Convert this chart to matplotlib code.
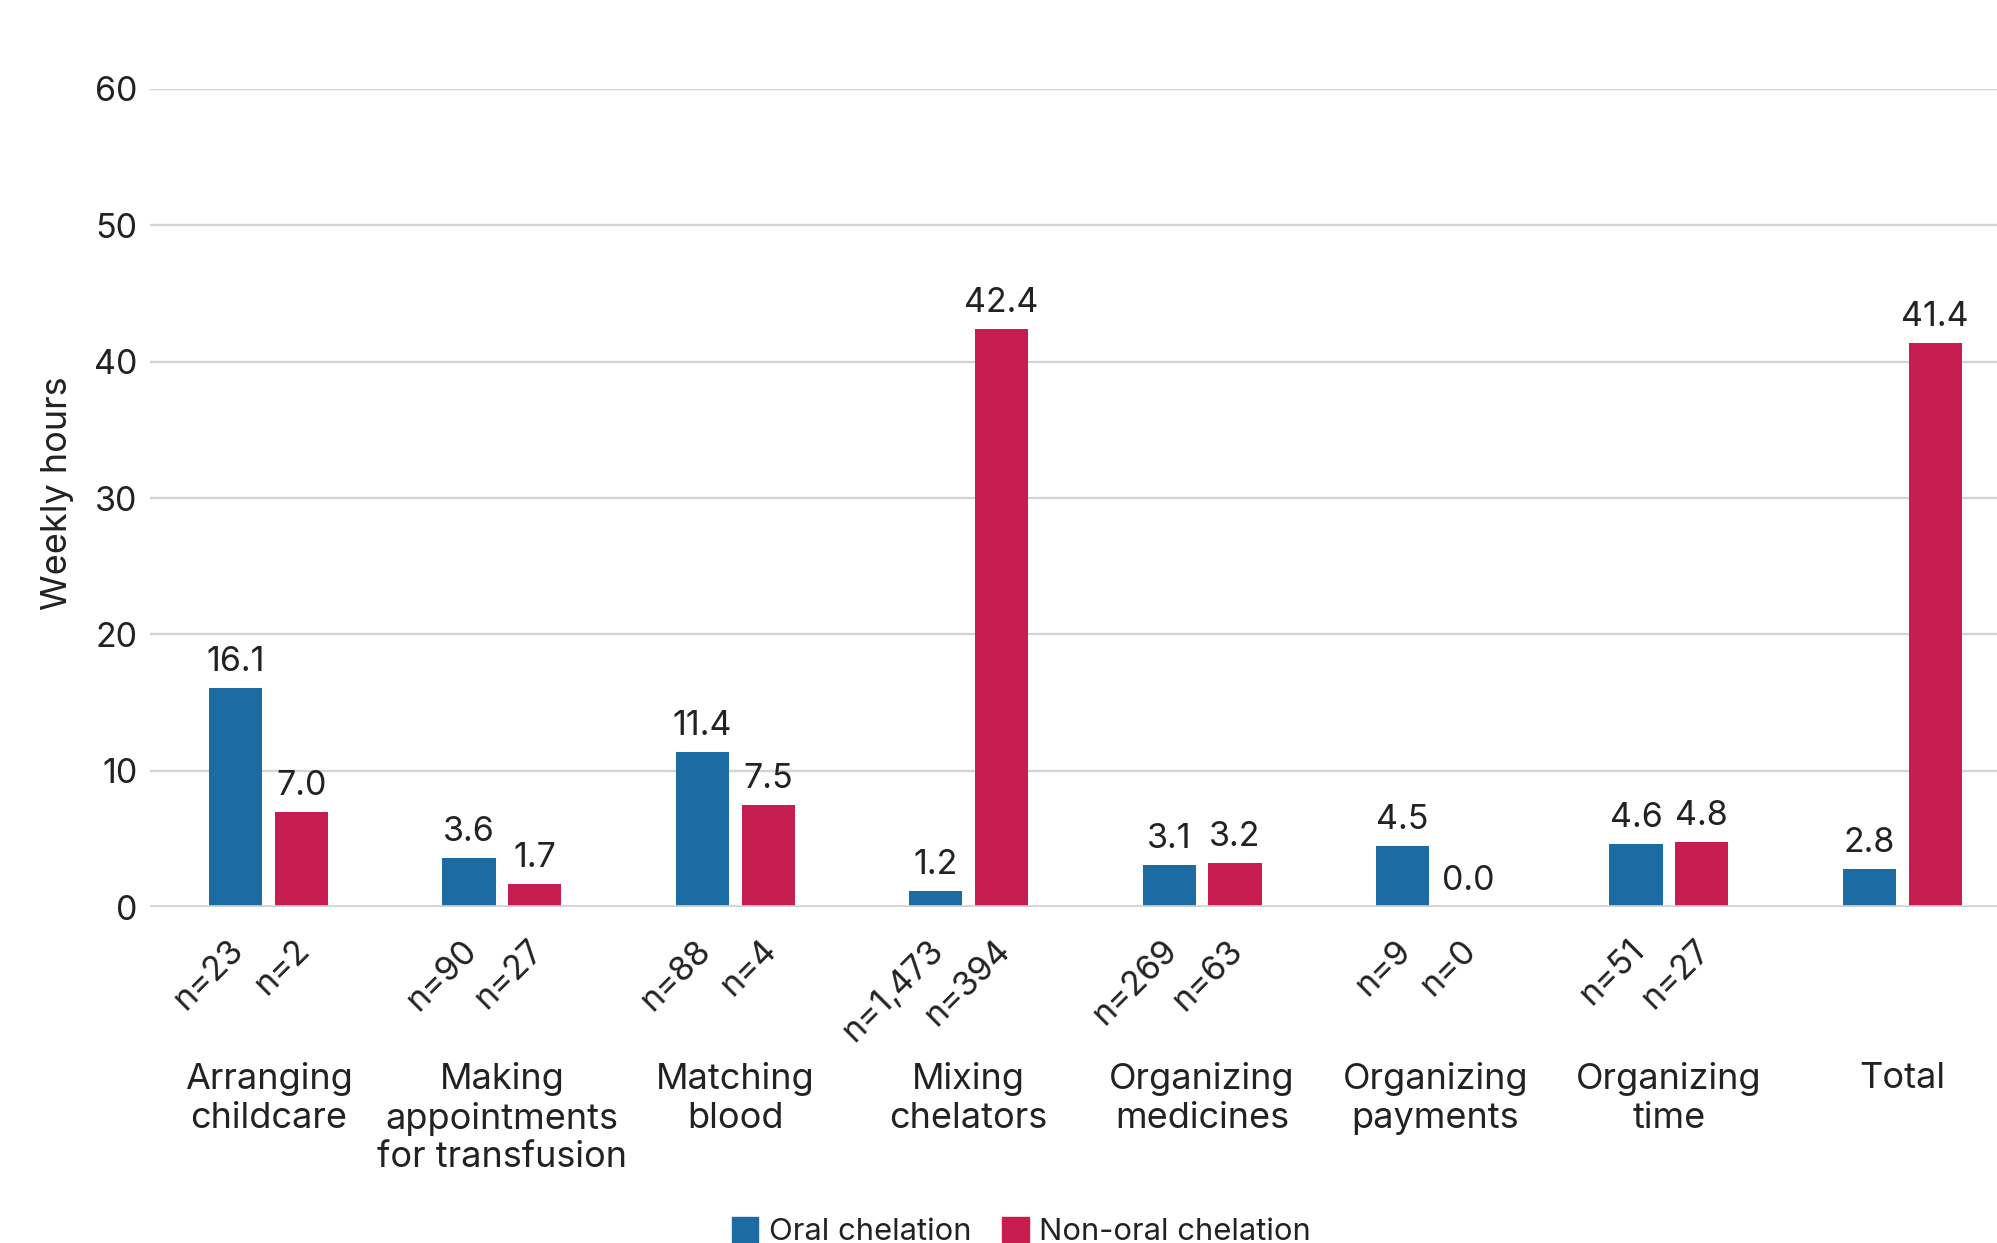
import numpy as np
import matplotlib.pyplot as plt
from matplotlib.patches import Patch
from matplotlib.transforms import blended_transform_factory

plt.rcParams['font.family'] = ['Inter', 'DejaVu Sans']

# weekly hours spent on each activity
categories = ['Arranging\nchildcare', 'Making\nappointments\nfor transfusion',
              'Matching\nblood', 'Mixing\nchelators', 'Organizing\nmedicines',
              'Organizing\npayments', 'Organizing\ntime', 'Total']
oral = [16.1, 3.6, 11.4, 1.2, 3.1, 4.5, 4.6, 2.8]
non_oral = [7.0, 1.7, 7.5, 42.4, 3.2, 0.0, 4.8, 41.4]
n_oral = ['n=23', 'n=90', 'n=88', 'n=1,473', 'n=269', 'n=9', 'n=51', '']
n_non_oral = ['n=2', 'n=27', 'n=4', 'n=394', 'n=63', 'n=0', 'n=27', '']
series_names = ['Oral chelation', 'Non-oral chelation']

BLUE = '#1c6ba2'
RED = '#c81d50'
TXT = '#222222'
GRID = '#d2d3d5'

fig = plt.figure(figsize=(19.97, 12.43), dpi=100)
ax = fig.add_axes([0.0751, 0.2703, 0.9249, 0.6581])

x = np.arange(len(categories))
off, w = 0.141, 0.228
ax.bar(x - off, oral, w, color=BLUE, zorder=3)
ax.bar(x + off, non_oral, w, color=RED, zorder=3)

ax.set_xlim(-0.508, 7.406)
ax.set_ylim(0, 60)
ax.set_yticks(range(0, 61, 10))
ax.tick_params(axis='y', length=0, pad=9, labelsize=24.5, labelcolor=TXT)
ax.set_xticks([])
for s in ax.spines.values():
    s.set_visible(False)
ax.grid(axis='y', color=GRID, lw=1.7, zorder=0)
ax.axhline(0, color=GRID, lw=2.6, zorder=4)

# value labels on top of bars
for xs, vals in ((x - off, oral), (x + off, non_oral)):
    for xi, v in zip(xs, vals):
        ax.annotate(f'{v:.1f}', (xi, v), xytext=(0, 10), textcoords='offset pixels',
                    ha='center', va='bottom', fontsize=24.5, color=TXT)

# sample sizes under the bars
for xs, labs in ((x - off, n_oral), (x + off, n_non_oral)):
    for xi, t in zip(xs, labs):
        if t:
            ax.annotate(t, (xi, 0), xytext=(-8, -27), textcoords='offset pixels',
                        ha='right', va='top', rotation=45, rotation_mode='anchor',
                        fontsize=24.5, color=TXT)

trans = blended_transform_factory(ax.transData, ax.transAxes)
for xi, c in zip(x, categories):
    ax.text(xi, -0.19, c, transform=trans, ha='center', va='top',
            fontsize=26, color=TXT, linespacing=1.2)

fig.text(0.029, 0.603, 'Weekly hours', rotation=90, ha='center', va='center',
         fontsize=26, color=TXT)

handles = [Patch(color=BLUE), Patch(color=RED)]
fig.legend(handles, series_names, loc='center', bbox_to_anchor=(0.5115, 0.009),
           ncol=2, frameon=False, fontsize=22.3, handlelength=0.85, handleheight=0.85,
           handletextpad=0.35, columnspacing=1.0, labelcolor=TXT)

fig.savefig('out.png', dpi=100)
